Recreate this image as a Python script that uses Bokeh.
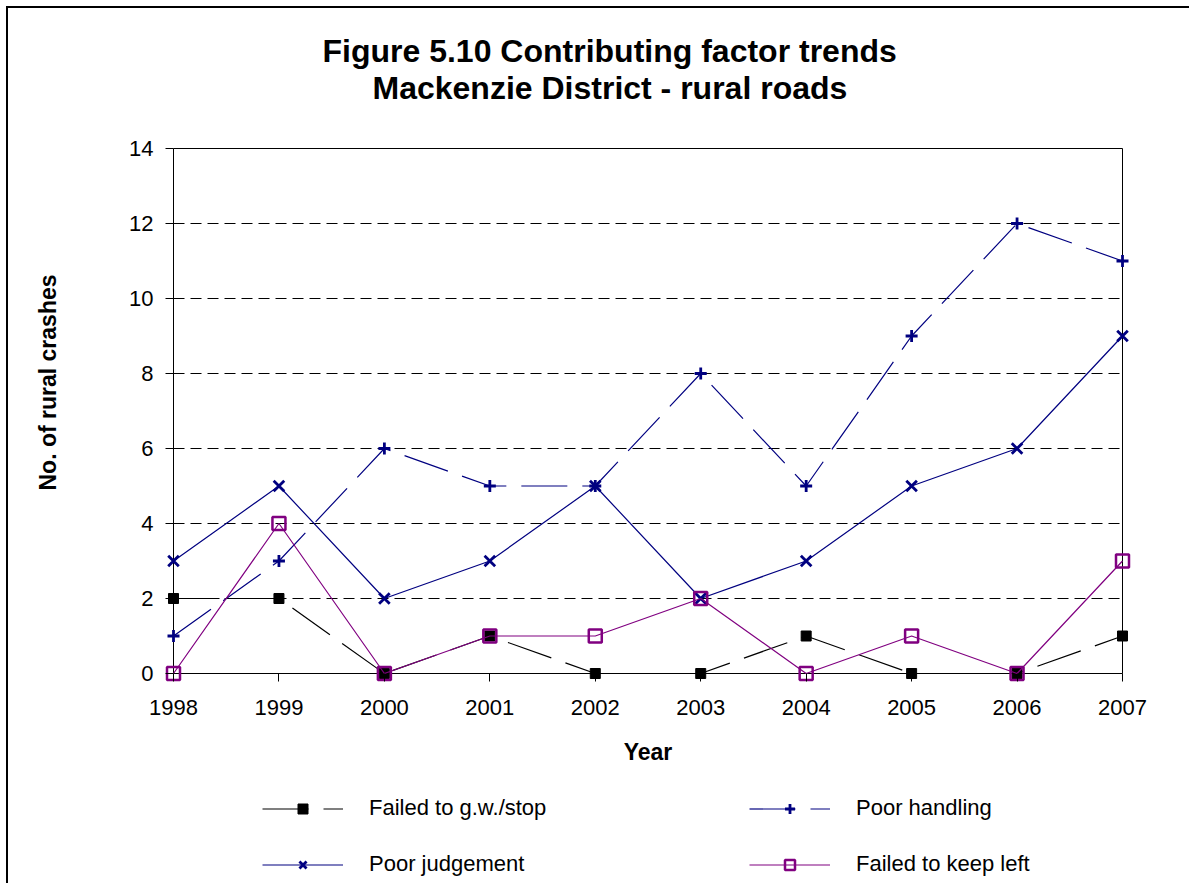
from bokeh.plotting import figure
from bokeh.models import Range1d, Title, Legend, LegendItem, BoxAnnotation, FixedTicker, Label
from bokeh.embed import file_html
from bokeh.resources import INLINE

# ---- data ----
years = [1998, 1999, 2000, 2001, 2002, 2003, 2004, 2005, 2006, 2007]
failed_gw_stop = [2, 2, 0, 1, 0, 0, 1, 0, 0, 1]
poor_handling = [1, 3, 6, 5, 5, 8, 5, 9, 12, 11]
poor_judgement = [3, 5, 2, 3, 5, 2, 3, 5, 6, 9]
failed_keep_left = [0, 4, 0, 1, 1, 2, 0, 1, 0, 3]
y_ticks = [0, 2, 4, 6, 8, 10, 12, 14]

title_line1 = "Figure 5.10 Contributing factor trends"
title_line2 = "Mackenzie District - rural roads"
x_label = "Year"
y_label = "No. of rural crashes"

FONT = "Liberation Sans"
NAVY = "#000080"
PURPLE = "#800080"

# ---- layout (pixels) ----
AX_W, AX_H = 949, 525        # plot area (1998..2007 x 0..14)
PAD_L, PAD_R, PAD_T = 110, 28, 8   # room inside the frame for tick labels / edge markers
BELOW = 212                  # room under the value axis for labels and legend
px_x = AX_W / (years[-1] - years[0])
px_y = AX_H / (y_ticks[-1] - y_ticks[0])
xr = Range1d(years[0] - PAD_L / px_x, years[-1] + PAD_R / px_x)
yr = Range1d(y_ticks[0] - BELOW / px_y, y_ticks[-1] + PAD_T / px_y)

p = figure(frame_width=AX_W + PAD_L + PAD_R, frame_height=AX_H + PAD_T + BELOW,
           x_range=xr, y_range=yr, title=None,
           output_backend="svg", toolbar_location=None,
           min_border_left=55, min_border_right=41,
           min_border_top=132, min_border_bottom=0)
p.outline_line_color = None
p.background_fill_color = "white"
p.border_fill_color = "white"
p.styles = {"margin-left": "8px", "margin-top": "8px", "box-shadow": "-2px -2px 0 0 #000"}

# plot-area frame
frame_box = BoxAnnotation(left=years[0], right=years[-1], bottom=y_ticks[0], top=y_ticks[-1],
                          fill_color=None, fill_alpha=0, line_color="black", line_alpha=1,
                          line_width=1, level="underlay")
p.add_layout(frame_box)

# grid (only across the plot area)
p.xgrid.grid_line_color = None
p.ygrid.ticker = FixedTicker(ticks=y_ticks[1:-1])
p.ygrid.cross_bounds = (years[0], years[-1])
p.ygrid.grid_line_color = "black"
p.ygrid.grid_line_dash = "11 6"
p.ygrid.grid_line_width = 1

# axes (drawn at the plot-area edges)
p.xaxis.ticker = FixedTicker(ticks=years)
p.yaxis.ticker = FixedTicker(ticks=y_ticks)
for ax in (p.xaxis[0], p.yaxis[0]):
    ax.axis_line_color = None
    ax.minor_tick_line_color = None
    ax.major_tick_line_color = "black"
    ax.major_tick_in = 0
    ax.major_tick_out = 8
    ax.major_label_text_font = FONT
    ax.major_label_text_font_size = "22px"
    ax.major_label_text_color = "black"
p.yaxis.fixed_location = years[0]
p.yaxis.major_label_standoff = 12
p.xaxis.fixed_location = y_ticks[0]
p.xaxis.major_label_standoff = 18

# x-axis title, centred under the plot area
xlab = Label(x=(years[0] + years[-1]) / 2, y=y_ticks[0] - 78 / px_y, text=x_label,
             text_font=FONT, text_font_size="23px", text_font_style="bold",
             text_color="black", text_align="center", text_baseline="middle")
p.add_layout(xlab)

# series
r1l = p.line(years, failed_gw_stop, line_color="black", line_width=1.2, line_dash="46 15")
r1m = p.scatter(years, failed_gw_stop, marker="square", size=10, fill_color="black", line_color="black")
r2l = p.line(years, poor_handling, line_color=NAVY, line_width=1.2, line_dash="46 15")
r2m = p.scatter(years, poor_handling, marker="cross", size=12, line_color=NAVY, line_width=2.8)
r3l = p.line(years, poor_judgement, line_color=NAVY, line_width=1.2)
r3m = p.scatter(years, poor_judgement, marker="x", size=15, line_color=NAVY, line_width=2.8)
r4l = p.line(years, failed_keep_left, line_color=PURPLE, line_width=1.2)
r4m = p.scatter(years, failed_keep_left, marker="square", size=13, line_color=PURPLE,
                fill_color=None, line_width=2.5)

# legend (two columns, under the x axis)
legend = Legend(items=[LegendItem(label="Failed to g.w./stop", renderers=[r1l, r1m]),
                       LegendItem(label="Poor handling", renderers=[r2l, r2m]),
                       LegendItem(label="Poor judgement", renderers=[r3l, r3m]),
                       LegendItem(label="Failed to keep left", renderers=[r4l, r4m])],
                location=(199, 8), orientation="horizontal", ncols=2,
                glyph_width=81, glyph_height=25, label_height=25, label_width=350,
                label_standoff=26, spacing=30, padding=0, margin=0,
                border_line_color=None, background_fill_alpha=0,
                label_text_font=FONT, label_text_font_size="22px", label_text_color="black")
p.add_layout(legend, "center")

# titles
t2 = Title(text=title_line2, align="left", offset=309, standoff=69,
           text_font=FONT, text_font_size="32px", text_font_style="bold", text_color="black")
p.add_layout(t2, "above")
t1 = Title(text=title_line1, align="left", offset=259, standoff=-71,
           text_font=FONT, text_font_size="32px", text_font_style="bold", text_color="black")
p.add_layout(t1, "above")

ty = Title(text=y_label, align="left", offset=395, standoff=6,
           text_font=FONT, text_font_size="23px", text_font_style="bold", text_color="black")
p.add_layout(ty, "left")

open("out.html", "w").write(file_html(p, INLINE))
